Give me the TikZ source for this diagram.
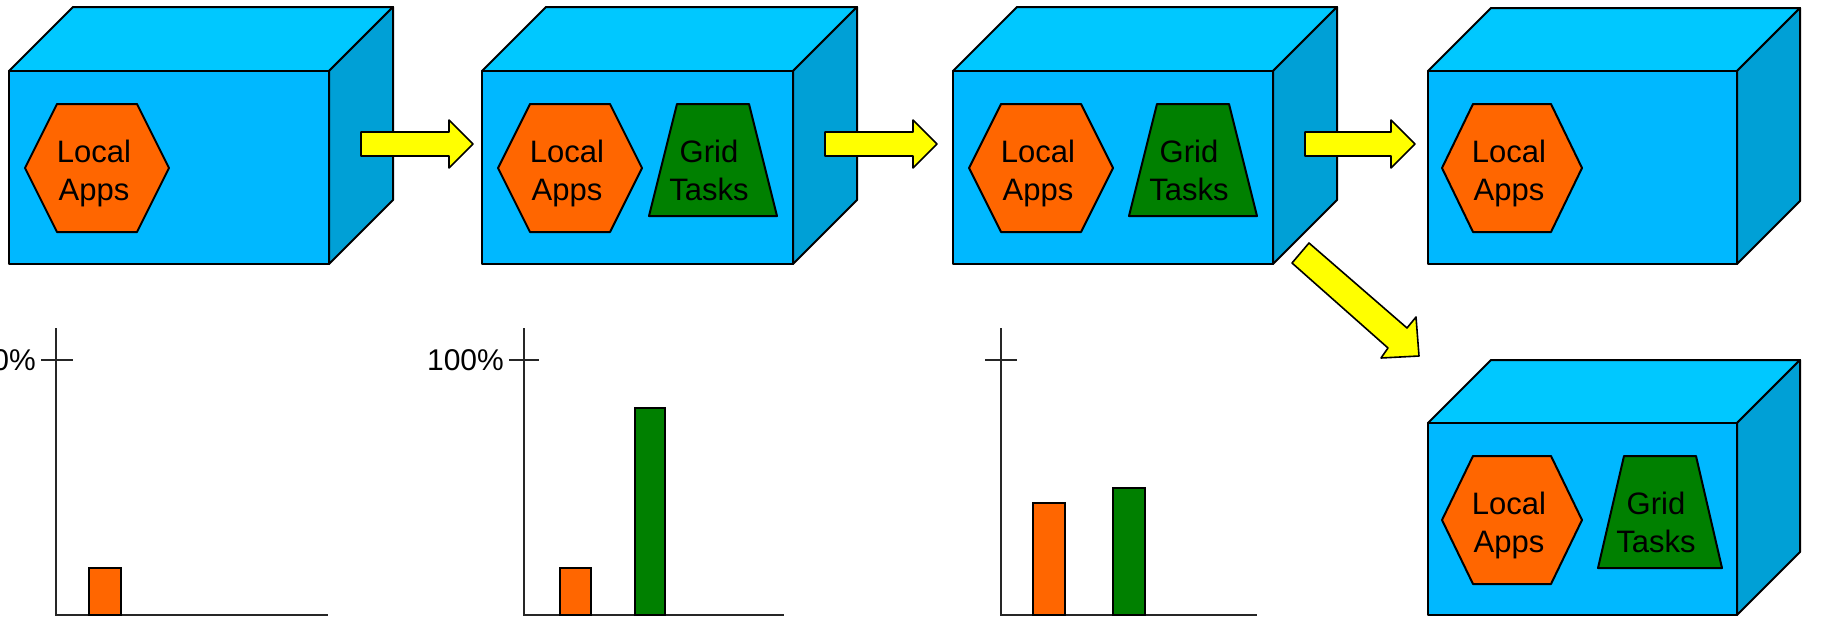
\documentclass[tikz,border=0pt]{standalone}
\usepackage{fontspec}
\setmainfont{Liberation Sans}
\definecolor{frontc}{RGB}{0,184,255}
\definecolor{topc}{RGB}{0,200,255}
\definecolor{sidec}{RGB}{0,160,214}
\definecolor{appc}{RGB}{255,102,0}
\definecolor{gridc}{RGB}{0,128,0}
\definecolor{arrc}{RGB}{255,255,0}
\tikzset{
  outl/.style={draw=black, line width=2pt, line join=round},
  frontface/.style={outl, fill=frontc},
  topface/.style={outl, fill=topc},
  sideface/.style={outl, fill=sidec},
  appshape/.style={outl, fill=appc},
  gridshape/.style={outl, fill=gridc},
  blockarrow/.style={draw=black, line width=1.6pt, line join=round, fill=arrc},
  lbl/.style={font=\fontsize{31}{37}\selectfont, anchor=base, inner sep=0pt},
  pct/.style={font=\fontsize{30}{36}\selectfont, anchor=base east, inner sep=0pt},
  axisline/.style={draw=black!85, line width=1.8pt},
  barbox/.style={draw=black, line width=2pt},
}
% #1 x-left, #2 x-right, #3 y-top, #4 y-bottom, #5 depth
\newcommand\mycube[5]{%
  \filldraw[topface] (#1,#3) -- (#1+#5,#3-#5) -- (#2+#5,#3-#5) -- (#2,#3) -- cycle;
  \filldraw[sideface] (#2,#3) -- (#2+#5,#3-#5) -- (#2+#5,#4-#5) -- (#2,#4) -- cycle;
  \filldraw[frontface] (#1,#3) rectangle (#2,#4);
}
% #1 cx, #2 cy, #3 half width, #4 half top edge, #5 half height
\newcommand\myhex[5]{%
  \filldraw[appshape] (#1-#3,#2) -- (#1-#4,#2-#5) -- (#1+#4,#2-#5) -- (#1+#3,#2)
    -- (#1+#4,#2+#5) -- (#1-#4,#2+#5) -- cycle;
}
% #1 cx, #2 ytop, #3 ybot, #4 half top, #5 half bottom
\newcommand\mytrap[5]{%
  \filldraw[gridshape] (#1-#4,#2) -- (#1+#4,#2) -- (#1+#5,#3) -- (#1-#5,#3) -- cycle;
}
% horizontal block arrow: #1 x-start, #2 x-head, #3 x-tip
\newcommand\myharrow[3]{%
  \filldraw[blockarrow] (#1,132) -- (#2,132) -- (#2,120) -- (#3,144) -- (#2,168)
    -- (#2,156) -- (#1,156) -- cycle;
}
\begin{document}
\begin{tikzpicture}[x=1pt,y=-1pt]
\useasboundingbox (0,0) rectangle (1821,616);
\fill[white] (0,0) rectangle (1821,616);

% ---- cubes ----
\mycube{9}{329}{71}{264}{64}
\mycube{482}{793}{71}{264}{64}
\mycube{953}{1273}{71}{264}{64}
\mycube{1428}{1737}{71}{264}{63}
\mycube{1428}{1737}{423}{615}{63}

% ---- contents ----
\myhex{97}{168}{72}{40}{64}
\node[lbl] (l1a) at (94,162) {Local};
\node[lbl] (l1b) at (94,200) {Apps};

\myhex{570}{168}{72}{40}{64}
\node[lbl] (l2a) at (567,162) {Local};
\node[lbl] (l2b) at (567,200) {Apps};
\mytrap{713}{104}{216}{36}{64}
\node[lbl] (g2a) at (709,162) {Grid};
\node[lbl] (g2b) at (709,200) {Tasks};

\myhex{1041}{168}{72}{40}{64}
\node[lbl] (l3a) at (1038,162) {Local};
\node[lbl] (l3b) at (1038,200) {Apps};
\mytrap{1193}{104}{216}{36}{64}
\node[lbl] (g3a) at (1189,162) {Grid};
\node[lbl] (g3b) at (1189,200) {Tasks};

\myhex{1512}{168}{70}{39}{64}
\node[lbl] (l4a) at (1509,162) {Local};
\node[lbl] (l4b) at (1509,200) {Apps};

\myhex{1512}{520}{70}{39}{64}
\node[lbl] (l5a) at (1509,514) {Local};
\node[lbl] (l5b) at (1509,552) {Apps};
\mytrap{1660}{456}{568}{36}{62}
\node[lbl] (g5a) at (1656,514) {Grid};
\node[lbl] (g5b) at (1656,552) {Tasks};

% ---- arrows ----
\myharrow{361}{449}{473}
\myharrow{825}{913}{937}
\myharrow{1305}{1391}{1415}
\filldraw[blockarrow] (1309,243) -- (1407,328) -- (1416,317) -- (1419,356)
  -- (1381,358) -- (1388,348) -- (1292,263) -- cycle;

% ---- chart 1 ----
\draw[axisline] (56,328) -- (56,615) -- (328,615);
\draw[axisline] (41,360) -- (73,360);
\node[pct] (p1) at (36,370) {100\%};
\filldraw[barbox, fill=appc] (89,568) rectangle (121,615);

% ---- chart 2 ----
\draw[axisline] (524,328) -- (524,615) -- (784,615);
\draw[axisline] (509,360) -- (539,360);
\node[pct] (p2) at (504,370) {100\%};
\filldraw[barbox, fill=appc] (560,568) rectangle (591,615);
\filldraw[barbox, fill=gridc] (635,408) rectangle (665,615);

% ---- chart 3 ----
\draw[axisline] (1001,328) -- (1001,615) -- (1257,615);
\draw[axisline] (985,360) -- (1017,360);
\filldraw[barbox, fill=appc] (1033,503) rectangle (1065,615);
\filldraw[barbox, fill=gridc] (1113,488) rectangle (1145,615);
\end{tikzpicture}
\end{document}
